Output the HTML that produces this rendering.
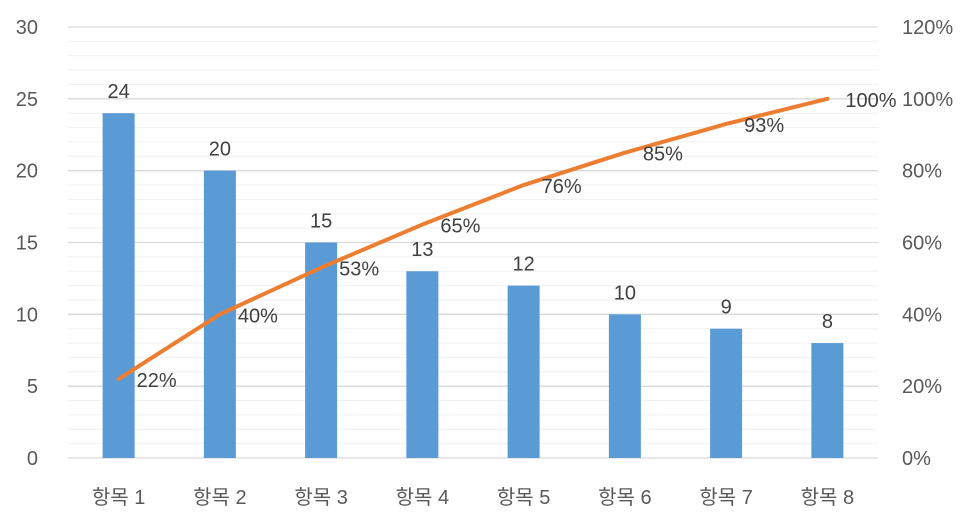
<!DOCTYPE html>
<html><head><meta charset="utf-8"><style>
body{margin:0;background:#fff}
svg{display:block;font-family:"Liberation Sans","Noto Sans CJK KR",sans-serif}
</style></head><body>
<svg id="chart" width="971" height="530"></svg>
<script>
const categories=["항목 1","항목 2","항목 3","항목 4","항목 5","항목 6","항목 7","항목 8"];
const counts=[24,20,15,13,12,10,9,8];
const cumPct=[22,40,53,65,76,85,93,100];
const leftTicks=[0,5,10,15,20,25,30];
const rightTicks=[0,20,40,60,80,100,120];
const NS="http://www.w3.org/2000/svg";
const svg=document.getElementById('chart');
const X0=68,X1=878,Y0=458,Y1=27;
const step=(X1-X0)/categories.length;
const xc=i=>X0+step*(i+0.5);
const yL=v=>Y0-(v/30)*(Y0-Y1);
const yR=v=>Y0-(v/120)*(Y0-Y1);
function mk(t,a,txt){const e=document.createElementNS(NS,t);for(const k in a)e.setAttribute(k,a[k]);if(txt!==undefined)e.textContent=txt;svg.appendChild(e);return e;}
for(let v=1;v<=30;v++){if(v%5===0)continue;
const g=mk('line',{x1:X0,x2:X1,y1:yL(v),y2:yL(v),stroke:'#f0f0f0','stroke-width':1});

}
leftTicks.forEach(v=>{
const g=mk('line',{x1:X0,x2:X1,y1:yL(v),y2:yL(v),stroke:'#d9d9d9','stroke-width':1.3});


const t=mk('text',{x:38,y:yL(v)+7,'text-anchor':'end','font-size':20,fill:'#595959'},v);

});
rightTicks.forEach(v=>{
const t=mk('text',{x:902,y:yR(v)+7,'font-size':20,fill:'#595959'},v+'%');

});
const bw=32;
counts.forEach((v,i)=>{
const r=mk('rect',{x:xc(i)-bw/2,y:yL(v),width:bw,height:Y0-yL(v),fill:'#5b9bd5'});


const t=mk('text',{x:xc(i),y:yL(v)-15,'text-anchor':'middle','font-size':20,fill:'#404040'},v);


const c=mk('text',{x:xc(i),y:504,'text-anchor':'middle','font-size':20,fill:'#595959'},categories[i]);

});
const pl=mk('polyline',{points:cumPct.map((v,i)=>xc(i)+','+yR(v)).join(' '),fill:'none',stroke:'#ed7d31','stroke-width':4,'stroke-linecap':'round','stroke-linejoin':'round'});


cumPct.forEach((v,i)=>{
const t=mk('text',{x:xc(i)+18,y:yR(v)+8,'font-size':20,fill:'#404040'},v+'%');

});
</script>
</body></html>
